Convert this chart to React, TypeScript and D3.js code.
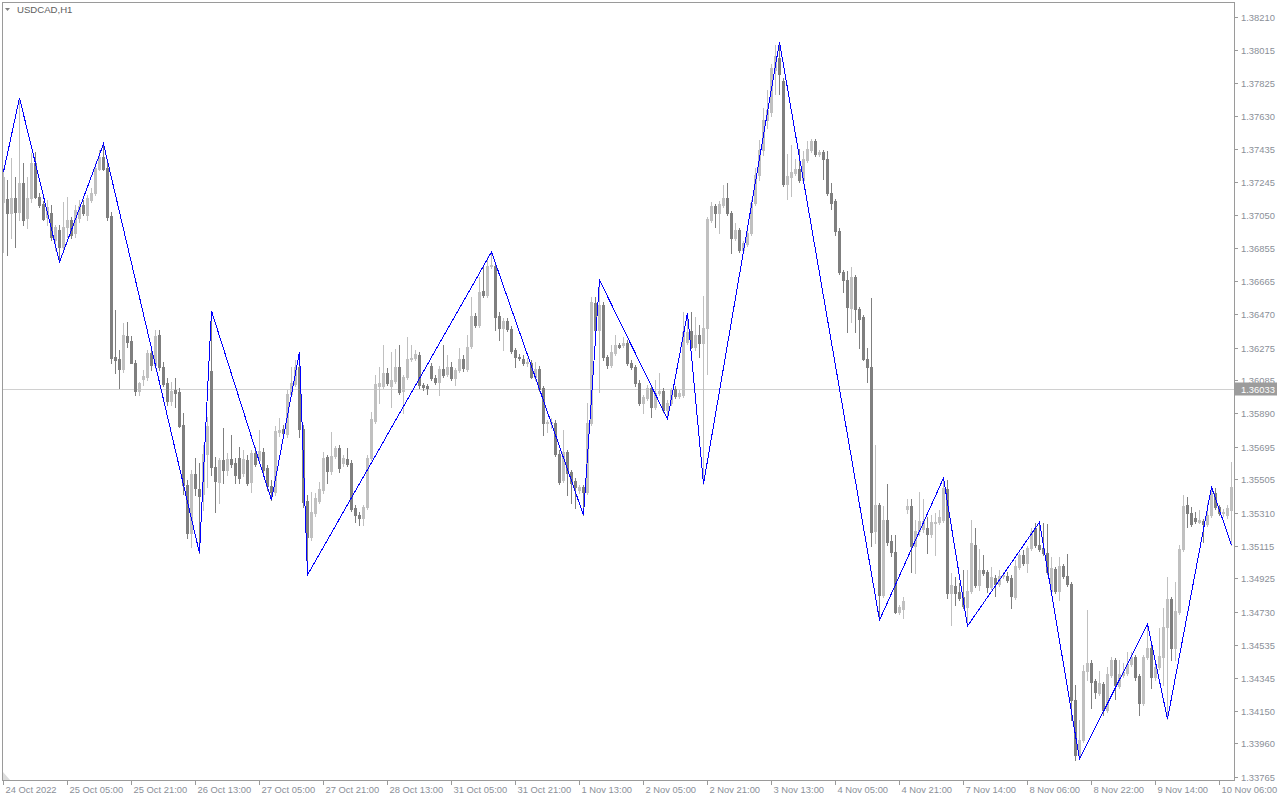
import * as d3 from "d3";

// USDCAD H1 candles (left to right)
const openP = [
  1.37126, 1.37144, 1.37062, 1.37150, 1.37068, 1.37237, 1.37033, 1.37150, 1.37354, 1.37156,
  1.37115, 1.37039, 1.37062, 1.36904, 1.36963, 1.36863, 1.36980, 1.37021, 1.36945, 1.37033,
  1.37109, 1.37050, 1.37138, 1.37179, 1.37319, 1.37390, 1.37325, 1.37045, 1.36220, 1.36208,
  1.36149, 1.36342, 1.36313, 1.36184, 1.36021, 1.36091, 1.36103, 1.36243, 1.36173, 1.36348,
  1.36161, 1.36067, 1.35962, 1.36027, 1.36015, 1.35822, 1.35471, 1.35190, 1.35535, 1.35447,
  1.35418, 1.35652, 1.36138, 1.35576, 1.35488, 1.35617, 1.35559, 1.35623, 1.35599, 1.35629,
  1.35541, 1.35617, 1.35488, 1.35658, 1.35617, 1.35664, 1.35570, 1.35465, 1.35430, 1.35781,
  1.35798, 1.35770, 1.36004, 1.36062, 1.36161, 1.35798, 1.35377, 1.35167, 1.35307, 1.35377,
  1.35442, 1.35635, 1.35553, 1.35641, 1.35687, 1.35599, 1.35623, 1.35599, 1.35336, 1.35295,
  1.35278, 1.35342, 1.35629, 1.35845, 1.36050, 1.36050, 1.36126, 1.36050, 1.36079, 1.36161,
  1.36021, 1.36103, 1.36208, 1.36214, 1.36231, 1.36056, 1.36050, 1.36167, 1.36097, 1.36073,
  1.36149, 1.36120, 1.36161, 1.36097, 1.36144, 1.36208, 1.36149, 1.36284, 1.36460, 1.36407,
  1.36606, 1.36582, 1.36752, 1.36752, 1.36460, 1.36389, 1.36430, 1.36383, 1.36261, 1.36220,
  1.36208, 1.36184, 1.36184, 1.36103, 1.36149, 1.36038, 1.35833, 1.35833, 1.35833, 1.35652,
  1.35500, 1.35664, 1.35547, 1.35494, 1.35442, 1.35459, 1.35430, 1.35833, 1.36535, 1.36378,
  1.36524, 1.36220, 1.36173, 1.36243, 1.36290, 1.36290, 1.36301, 1.36184, 1.36161, 1.36067,
  1.35950, 1.35980, 1.36038, 1.35927, 1.36009, 1.36021, 1.35910, 1.35950, 1.36032, 1.35992,
  1.35997, 1.36307, 1.36372, 1.36278, 1.36348, 1.36301, 1.36389, 1.37021, 1.37103, 1.37062,
  1.37109, 1.37150, 1.37062, 1.36916, 1.36963, 1.36846, 1.36881, 1.36945, 1.37120, 1.37285,
  1.37431, 1.37606, 1.37653, 1.37899, 1.37969, 1.37834, 1.37232, 1.37273, 1.37296, 1.37319,
  1.37255, 1.37372, 1.37431, 1.37483, 1.37408, 1.37419, 1.37378, 1.37179, 1.37132, 1.36957,
  1.36717, 1.36670, 1.36506, 1.36688, 1.36500, 1.36454, 1.36208, 1.36161, 1.35202, 1.35354,
  1.34828, 1.35266, 1.35143, 1.35079, 1.34728, 1.34745, 1.35330, 1.35348, 1.35114, 1.35202,
  1.35213, 1.35219, 1.35184, 1.35248, 1.35254, 1.35266, 1.35447, 1.34839, 1.34880, 1.34845,
  1.34816, 1.34757, 1.34851, 1.35120, 1.34886, 1.34974, 1.34962, 1.34874, 1.34927, 1.34892,
  1.34939, 1.34939, 1.34927, 1.34816, 1.34991, 1.35061, 1.35014, 1.35102, 1.35219, 1.35120,
  1.35102, 1.35073, 1.34851, 1.34979, 1.34851, 1.34997, 1.34939, 1.34892, 1.34213, 1.33891,
  1.33979, 1.34383, 1.34429, 1.34324, 1.34254, 1.34307, 1.34155, 1.34359, 1.34447, 1.34295,
  1.34359, 1.34371, 1.34424, 1.34465, 1.34354, 1.34196, 1.34465, 1.34517, 1.34348, 1.34406,
  1.34465, 1.34640, 1.34804, 1.34517, 1.34728, 1.35096, 1.35354, 1.35307, 1.35278, 1.35254,
  1.35260, 1.35243, 1.35295, 1.35424, 1.35342, 1.35307, 1.35295, 1.35325,
];

const highP = [
  1.37325, 1.37255, 1.37384, 1.37273, 1.37735, 1.37354, 1.37273, 1.37413, 1.37419, 1.37179,
  1.37132, 1.37138, 1.37109, 1.36992, 1.36992, 1.37126, 1.37156, 1.37039, 1.37109, 1.37138,
  1.37138, 1.37167, 1.37208, 1.37354, 1.37431, 1.37466, 1.37372, 1.37068, 1.36495, 1.36261,
  1.36418, 1.36424, 1.36342, 1.36202, 1.36073, 1.36144, 1.36261, 1.36272, 1.36378, 1.36378,
  1.36190, 1.36097, 1.36073, 1.36097, 1.36038, 1.35892, 1.35500, 1.35559, 1.35629, 1.35599,
  1.35705, 1.35869, 1.36489, 1.35635, 1.35629, 1.35804, 1.35658, 1.35763, 1.35629, 1.35693,
  1.35676, 1.35646, 1.35676, 1.35693, 1.35793, 1.35687, 1.35588, 1.35500, 1.35816, 1.35863,
  1.35822, 1.36027, 1.36161, 1.36202, 1.36249, 1.35822, 1.35412, 1.35430, 1.35424, 1.35488,
  1.35664, 1.35646, 1.35781, 1.35699, 1.35705, 1.35646, 1.35687, 1.35617, 1.35354, 1.35313,
  1.35354, 1.35646, 1.35898, 1.36114, 1.36161, 1.36290, 1.36155, 1.36249, 1.36266, 1.36290,
  1.36114, 1.36337, 1.36290, 1.36261, 1.36249, 1.36067, 1.36062, 1.36184, 1.36114, 1.36167,
  1.36290, 1.36231, 1.36190, 1.36155, 1.36272, 1.36231, 1.36348, 1.36571, 1.36477, 1.36688,
  1.36746, 1.36805, 1.36834, 1.36775, 1.36483, 1.36448, 1.36448, 1.36401, 1.36272, 1.36237,
  1.36231, 1.36214, 1.36202, 1.36190, 1.36167, 1.36050, 1.35851, 1.35863, 1.35851, 1.35676,
  1.35793, 1.35676, 1.35559, 1.35512, 1.35471, 1.35471, 1.35950, 1.36571, 1.36571, 1.36670,
  1.36541, 1.36231, 1.36290, 1.36348, 1.36301, 1.36337, 1.36319, 1.36202, 1.36173, 1.36085,
  1.35997, 1.36056, 1.36056, 1.36085, 1.36126, 1.36038, 1.35968, 1.36038, 1.36050, 1.36027,
  1.36483, 1.36477, 1.36483, 1.36454, 1.36407, 1.36577, 1.37039, 1.37126, 1.37115, 1.37132,
  1.37226, 1.37237, 1.37074, 1.37003, 1.36974, 1.36898, 1.36957, 1.37138, 1.37325, 1.37489,
  1.37676, 1.37782, 1.37934, 1.38045, 1.38062, 1.37852, 1.37408, 1.37460, 1.37378, 1.37436,
  1.37425, 1.37483, 1.37495, 1.37495, 1.37431, 1.37431, 1.37425, 1.37237, 1.37144, 1.36974,
  1.36729, 1.36723, 1.36746, 1.36699, 1.36512, 1.36465, 1.36272, 1.36565, 1.35705, 1.35365,
  1.35348, 1.35477, 1.35178, 1.35178, 1.34769, 1.34816, 1.35389, 1.35389, 1.35266, 1.35430,
  1.35389, 1.35284, 1.35295, 1.35307, 1.35325, 1.35512, 1.35500, 1.34956, 1.34933, 1.34897,
  1.34974, 1.34974, 1.35266, 1.35219, 1.35096, 1.35061, 1.34974, 1.34991, 1.34945, 1.34974,
  1.34962, 1.34962, 1.34945, 1.35032, 1.35073, 1.35091, 1.35114, 1.35219, 1.35248, 1.35254,
  1.35248, 1.35243, 1.35050, 1.34991, 1.35050, 1.35009, 1.35068, 1.34903, 1.34301, 1.34096,
  1.34418, 1.34740, 1.34447, 1.34336, 1.34383, 1.34318, 1.34406, 1.34465, 1.34459, 1.34447,
  1.34429, 1.34494, 1.34494, 1.34476, 1.34365, 1.34476, 1.34658, 1.34529, 1.34418, 1.34634,
  1.34751, 1.34933, 1.34816, 1.34903, 1.35120, 1.35412, 1.35401, 1.35342, 1.35313, 1.35325,
  1.35272, 1.35365, 1.35459, 1.35453, 1.35354, 1.35330, 1.35354, 1.35605,
];

const lowP = [
  1.36834, 1.36817, 1.36916, 1.36863, 1.37021, 1.36992, 1.36974, 1.37126, 1.37150, 1.37097,
  1.37021, 1.36992, 1.36904, 1.36846, 1.36775, 1.36846, 1.36922, 1.36916, 1.36922, 1.37009,
  1.37050, 1.37021, 1.37126, 1.37167, 1.37314, 1.37314, 1.37021, 1.36184, 1.36126, 1.36038,
  1.36132, 1.36278, 1.36184, 1.35997, 1.35997, 1.36056, 1.36085, 1.36144, 1.36155, 1.36144,
  1.36050, 1.35939, 1.35939, 1.35927, 1.35810, 1.35418, 1.35161, 1.35108, 1.35412, 1.35073,
  1.35325, 1.35459, 1.35529, 1.35313, 1.35365, 1.35482, 1.35529, 1.35576, 1.35482, 1.35482,
  1.35524, 1.35471, 1.35430, 1.35582, 1.35605, 1.35547, 1.35442, 1.35383, 1.35412, 1.35758,
  1.35758, 1.35752, 1.35992, 1.36050, 1.35752, 1.35342, 1.34945, 1.35149, 1.35290, 1.35365,
  1.35424, 1.35482, 1.35535, 1.35629, 1.35547, 1.35582, 1.35582, 1.35319, 1.35254, 1.35237,
  1.35237, 1.35330, 1.35617, 1.35833, 1.35950, 1.36038, 1.36056, 1.35927, 1.36067, 1.36004,
  1.35892, 1.36091, 1.36196, 1.36202, 1.36038, 1.36027, 1.36004, 1.36085, 1.36062, 1.35997,
  1.36103, 1.36108, 1.36085, 1.36056, 1.36132, 1.36138, 1.36138, 1.36272, 1.36395, 1.36395,
  1.36571, 1.36571, 1.36740, 1.36378, 1.36319, 1.36261, 1.36372, 1.36243, 1.36161, 1.36202,
  1.36173, 1.36167, 1.36097, 1.36085, 1.36021, 1.35763, 1.35781, 1.35804, 1.35641, 1.35477,
  1.35488, 1.35412, 1.35365, 1.35336, 1.35424, 1.35295, 1.35418, 1.35822, 1.36366, 1.36015,
  1.36202, 1.36155, 1.36161, 1.36231, 1.36272, 1.36278, 1.36173, 1.36149, 1.36050, 1.35939,
  1.35892, 1.35968, 1.35869, 1.35915, 1.35997, 1.35898, 1.35857, 1.35939, 1.35980, 1.35980,
  1.35986, 1.36296, 1.36272, 1.36261, 1.36220, 1.35477, 1.36120, 1.37009, 1.36980, 1.36945,
  1.37097, 1.37050, 1.36828, 1.36904, 1.36834, 1.36834, 1.36869, 1.36934, 1.37109, 1.37255,
  1.37401, 1.37559, 1.37630, 1.37758, 1.37758, 1.37220, 1.37144, 1.37162, 1.37285, 1.37243,
  1.37243, 1.37360, 1.37419, 1.37396, 1.37396, 1.37261, 1.37167, 1.37085, 1.36934, 1.36706,
  1.36600, 1.36366, 1.36424, 1.36366, 1.36272, 1.36202, 1.36073, 1.35114, 1.35131, 1.34681,
  1.34816, 1.35120, 1.35056, 1.34722, 1.34716, 1.34693, 1.35307, 1.34962, 1.34956, 1.35178,
  1.35196, 1.35073, 1.35167, 1.35061, 1.35243, 1.35254, 1.34810, 1.34652, 1.34769, 1.34798,
  1.34751, 1.34646, 1.34839, 1.34874, 1.34857, 1.34945, 1.34845, 1.34862, 1.34822, 1.34880,
  1.34927, 1.34903, 1.34751, 1.34804, 1.34979, 1.35003, 1.34962, 1.35091, 1.35108, 1.35085,
  1.35061, 1.34951, 1.34839, 1.34839, 1.34798, 1.34927, 1.34880, 1.34096, 1.33862, 1.33868,
  1.33967, 1.34330, 1.34166, 1.34225, 1.34243, 1.34126, 1.34143, 1.34348, 1.34219, 1.34283,
  1.34348, 1.34359, 1.34412, 1.34330, 1.34126, 1.34184, 1.34453, 1.34283, 1.34330, 1.34394,
  1.34301, 1.34102, 1.34447, 1.34447, 1.34716, 1.35085, 1.35225, 1.35231, 1.35248, 1.35248,
  1.35137, 1.35231, 1.35284, 1.35330, 1.35295, 1.35290, 1.35278, 1.35120,
];

const closeP = [
  1.37273, 1.37062, 1.37150, 1.37068, 1.37237, 1.37021, 1.37150, 1.37354, 1.37156, 1.37109,
  1.37027, 1.37097, 1.36922, 1.36980, 1.36863, 1.36980, 1.37021, 1.36934, 1.37080, 1.37103,
  1.37062, 1.37150, 1.37179, 1.37325, 1.37390, 1.37319, 1.37039, 1.36214, 1.36202, 1.36149,
  1.36348, 1.36307, 1.36184, 1.36021, 1.36067, 1.36108, 1.36243, 1.36173, 1.36342, 1.36161,
  1.36062, 1.35962, 1.36021, 1.36009, 1.35816, 1.35471, 1.35190, 1.35535, 1.35453, 1.35407,
  1.35652, 1.35816, 1.35576, 1.35494, 1.35617, 1.35559, 1.35623, 1.35594, 1.35529, 1.35512,
  1.35623, 1.35482, 1.35658, 1.35594, 1.35670, 1.35559, 1.35465, 1.35430, 1.35787, 1.35793,
  1.35775, 1.36004, 1.36067, 1.36161, 1.35798, 1.35371, 1.35167, 1.35313, 1.35395, 1.35447,
  1.35629, 1.35553, 1.35641, 1.35687, 1.35570, 1.35629, 1.35594, 1.35330, 1.35295, 1.35278,
  1.35342, 1.35629, 1.35857, 1.36062, 1.36067, 1.36126, 1.36067, 1.36085, 1.36161, 1.36015,
  1.36103, 1.36208, 1.36214, 1.36237, 1.36056, 1.36044, 1.36038, 1.36097, 1.36073, 1.36149,
  1.36114, 1.36161, 1.36097, 1.36144, 1.36208, 1.36155, 1.36278, 1.36460, 1.36407, 1.36600,
  1.36582, 1.36752, 1.36758, 1.36454, 1.36389, 1.36430, 1.36383, 1.36255, 1.36220, 1.36214,
  1.36184, 1.36190, 1.36103, 1.36149, 1.36032, 1.35833, 1.35839, 1.35839, 1.35652, 1.35488,
  1.35664, 1.35541, 1.35482, 1.35459, 1.35459, 1.35430, 1.35833, 1.36541, 1.36378, 1.36524,
  1.36220, 1.36173, 1.36249, 1.36290, 1.36278, 1.36301, 1.36184, 1.36161, 1.36067, 1.35950,
  1.35986, 1.36038, 1.35927, 1.36009, 1.36021, 1.35910, 1.35950, 1.36027, 1.35992, 1.36009,
  1.36366, 1.36366, 1.36278, 1.36348, 1.36301, 1.36389, 1.37027, 1.37103, 1.37062, 1.37115,
  1.37150, 1.37062, 1.36916, 1.36963, 1.36846, 1.36886, 1.36945, 1.37120, 1.37285, 1.37431,
  1.37606, 1.37665, 1.37910, 1.37981, 1.37876, 1.37232, 1.37279, 1.37302, 1.37319, 1.37255,
  1.37378, 1.37436, 1.37483, 1.37408, 1.37419, 1.37378, 1.37179, 1.37120, 1.36957, 1.36717,
  1.36670, 1.36512, 1.36688, 1.36500, 1.36442, 1.36208, 1.36161, 1.35196, 1.35354, 1.34828,
  1.35266, 1.35137, 1.35079, 1.34728, 1.34757, 1.34792, 1.35348, 1.35114, 1.35202, 1.35260,
  1.35260, 1.35184, 1.35254, 1.35254, 1.35284, 1.35453, 1.34839, 1.34886, 1.34839, 1.34810,
  1.34763, 1.34851, 1.35131, 1.34886, 1.34974, 1.34956, 1.34874, 1.34933, 1.34892, 1.34939,
  1.34945, 1.34915, 1.34822, 1.34997, 1.35061, 1.35014, 1.35102, 1.35196, 1.35120, 1.35096,
  1.35073, 1.34962, 1.34985, 1.34851, 1.34997, 1.34939, 1.34892, 1.34213, 1.33891, 1.33979,
  1.34383, 1.34429, 1.34318, 1.34260, 1.34312, 1.34155, 1.34365, 1.34447, 1.34301, 1.34365,
  1.34377, 1.34424, 1.34465, 1.34348, 1.34196, 1.34465, 1.34517, 1.34348, 1.34406, 1.34471,
  1.34640, 1.34804, 1.34517, 1.34734, 1.35096, 1.35348, 1.35307, 1.35243, 1.35260, 1.35266,
  1.35243, 1.35295, 1.35424, 1.35342, 1.35307, 1.35313, 1.35336, 1.35459,
];

// ZigZag indicator turning points: bar index and price
const zzBar = [0, 4, 14, 25, 49, 52, 67, 74, 76, 122, 145, 149, 166, 171, 175, 194, 219, 235, 241, 259, 269, 286, 291, 302, 307];
const zzPrice = [
  1.37302, 1.37735, 1.36775, 1.37466, 1.35073, 1.36489, 1.35383, 1.36249, 1.34945, 1.36834,
  1.35295, 1.36670, 1.35857, 1.36477, 1.35477, 1.38062, 1.34681, 1.35512, 1.34646, 1.35254,
  1.33868, 1.34658, 1.34102, 1.35459, 1.35120,
];

const priceTicks = [
  1.38210, 1.38015, 1.37825, 1.37630, 1.37435, 1.37245, 1.37050, 1.36855, 1.36665, 1.36470,
  1.36275, 1.36085, 1.35890, 1.35695, 1.35505, 1.35310, 1.35115, 1.34925, 1.34730, 1.34535,
  1.34345, 1.34150, 1.33960, 1.33765,
];

const timeTickBars = [0, 16, 32, 48, 64, 80, 96, 112, 128, 144, 160, 176, 192, 208, 224, 240, 256, 272, 288, 304];
const timeLabels = [
  "24 Oct 2022", "25 Oct 05:00", "25 Oct 21:00", "26 Oct 13:00", "27 Oct 05:00",
  "27 Oct 21:00", "28 Oct 13:00", "31 Oct 05:00", "31 Oct 21:00", "1 Nov 13:00",
  "2 Nov 05:00", "2 Nov 21:00", "3 Nov 13:00", "4 Nov 05:00", "4 Nov 21:00",
  "7 Nov 14:00", "8 Nov 06:00", "8 Nov 22:00", "9 Nov 14:00", "10 Nov 06:00",
];

const bidPrice = 1.36033;
const symbol = "USDCAD,H1";

const W = 1280;
const H = 800;
const left = 2;
const right = 1234;
const top = 2;
const bottom = 780;

const font = "'Liberation Sans', Arial, sans-serif";
const axisColor = "#8a8f98";
const upColor = "#c0c0c0";
const downColor = "#7f7f7f";

export default function App() {
  const x = d3.scaleLinear().domain([0, 307]).range([3.5, 1231.5]);
  const y = d3.scaleLinear().domain([1.33765, 1.3821]).range([776.7, 16.7]);

  const zigzag = d3
    .line<number>()
    .x((_, i) => x(zzBar[i]))
    .y((d) => y(d))(zzPrice);

  const yBid = Math.round(y(bidPrice)) + 0.5;

  return (
    <div style={{ position: "absolute", left: 0, top: 0 }}>
      <svg width={W} height={H} style={{ display: "block", background: "#fff" }} fontFamily={font}>
        <rect x={0} y={0} width={W} height={H} fill="#fff" />

        {/* bid line */}
        <line x1={left} x2={right} y1={yBid} y2={yBid} stroke="#d0d0d0" shapeRendering="crispEdges" />

        {/* candles */}
        <g shapeRendering="crispEdges">
          {closeP.map((c, i) => {
            const o = openP[i];
            const up = c >= o;
            const col = up ? upColor : downColor;
            const bx = Math.floor(x(i));
            const yt = Math.round(y(Math.max(o, c)));
            const yb = Math.round(y(Math.min(o, c)));
            const yh = Math.round(y(highP[i]));
            const yl = Math.round(y(lowP[i]));
            return (
              <g key={i}>
                <rect x={bx} y={yh} width={1} height={Math.max(1, yl - yh + 1)} fill={col} />
                <rect x={bx - 1} y={yt} width={3} height={Math.max(1, yb - yt + 1)} fill={col} />
              </g>
            );
          })}
        </g>

        {/* zigzag */}
        <path d={zigzag ?? ""} fill="none" stroke="#0000ff" strokeWidth={1} shapeRendering="crispEdges" />

        {/* frame */}
        <rect
          x={left + 0.5}
          y={top + 0.5}
          width={right - left}
          height={bottom - top}
          fill="none"
          stroke="#9a9a9a"
          shapeRendering="crispEdges"
        />

        {/* price axis */}
        <g fontSize={9.4} fill={axisColor}>
          {priceTicks.map((p) => {
            const yy = Math.round(y(p)) + 0.5;
            return (
              <g key={p}>
                <line x1={right} x2={right + 4} y1={yy} y2={yy} stroke="#9a9a9a" shapeRendering="crispEdges" />
                <text x={right + 7} y={yy + 3.5}>
                  {p.toFixed(5)}
                </text>
              </g>
            );
          })}
        </g>

        {/* bid label */}
        <rect x={right + 1} y={yBid - 7} width={W - right - 4} height={13} fill="#9c9c9c" />
        <text x={right + 7} y={yBid + 3.5} fontSize={9.4} fill="#fff">
          {bidPrice.toFixed(5)}
        </text>

        {/* time axis */}
        <g fontSize={9.4} fill={axisColor}>
          {timeTickBars.map((b, i) => {
            const xx = Math.floor(x(b)) + 0.5;
            return (
              <g key={b}>
                <line x1={xx} x2={xx} y1={bottom} y2={bottom + 5} stroke="#9a9a9a" shapeRendering="crispEdges" />
                <text x={xx + 2} y={bottom + 13}>
                  {timeLabels[i]}
                </text>
              </g>
            );
          })}
        </g>

        {/* chart shift marker */}
        <path d={`M${left + 1},${bottom - 8} L${left + 1},${bottom} L${left + 8},${bottom} Z`} fill="#dcdcdc" />

        {/* title */}
        <path d="M5,8 L10,8 L7.5,11 Z" fill="#808080" />
        <text x={17} y={13} fontSize={9.6} fill="#606060">
          {symbol}
        </text>
      </svg>
    </div>
  );
}
